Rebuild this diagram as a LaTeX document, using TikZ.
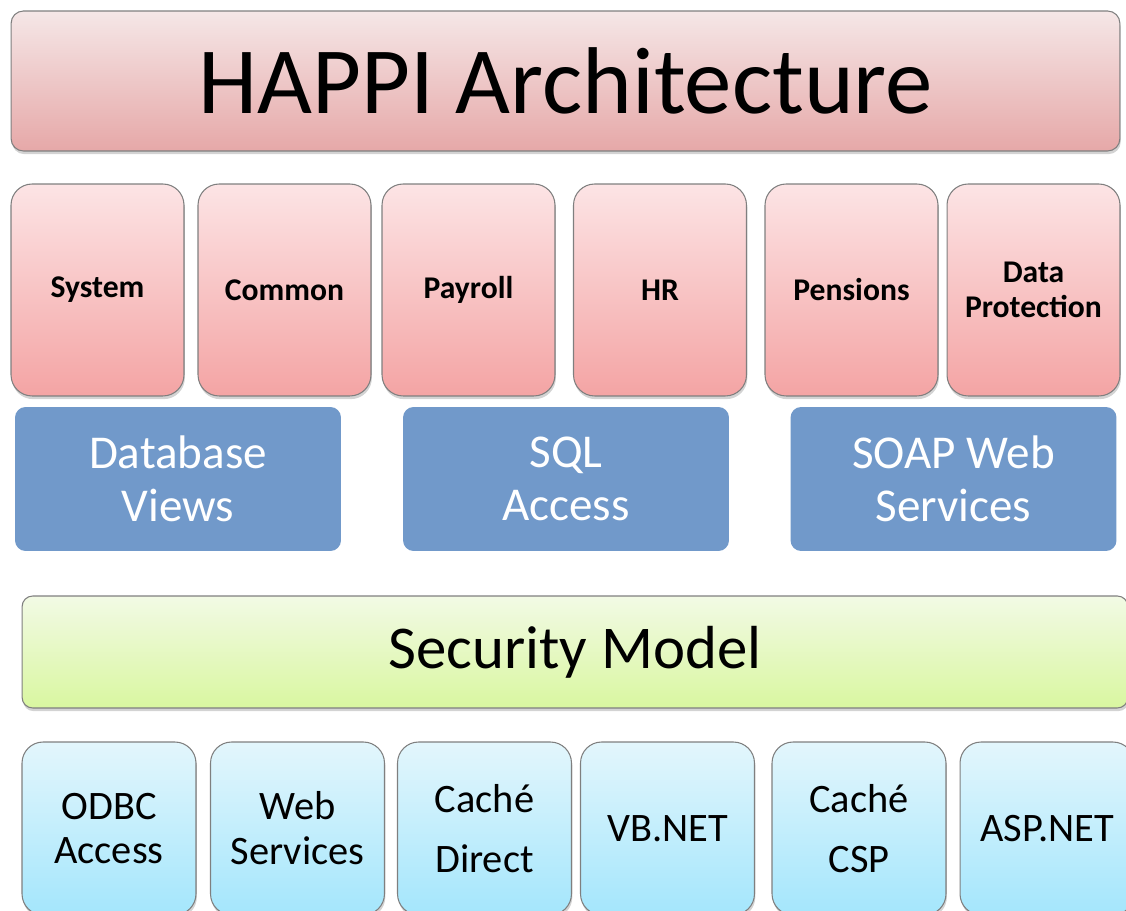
\documentclass[tikz,border=0pt]{standalone}
\usepackage{fontspec}
\setmainfont{Carlito}
\usepackage{xcolor}
\usetikzlibrary{shadows}

\definecolor{TitleTop}{HTML}{F5E7E7}
\definecolor{TitleBottom}{HTML}{E6A8A8}
\definecolor{ModuleTop}{HTML}{FCE4E5}
\definecolor{ModuleBottom}{HTML}{F4A4A4}
\definecolor{AccessBlue}{HTML}{7199CA}
\definecolor{SecurityTop}{HTML}{F2FAE5}
\definecolor{SecurityBottom}{HTML}{D9F7A0}
\definecolor{ClientTop}{HTML}{E3F6FC}
\definecolor{ClientBottom}{HTML}{A4E6FC}
\definecolor{EdgeGray}{HTML}{7F7F7F}

\begin{document}
\begin{tikzpicture}[x=0.02cm, y=-0.02cm]
\tikzset{BoxStyle/.style = {shape=rectangle, draw=EdgeGray, line width=0.6pt, inner sep=0pt, align=center,
  drop shadow={shadow xshift=0.5pt, shadow yshift=-1.8pt, opacity=0.35}}}
\tikzset{TitleStyle/.style = {BoxStyle, rounded corners=7pt, top color=TitleTop, bottom color=TitleBottom,
  minimum width=22.18cm, minimum height=2.8cm, font=\fontsize{54}{65}\selectfont}}
\tikzset{ModuleStyle/.style = {BoxStyle, rounded corners=12pt, top color=ModuleTop, bottom color=ModuleBottom,
  minimum width=3.46cm, minimum height=4.24cm, font=\fontsize{18}{20}\selectfont\bfseries}}
\tikzset{AccessStyle/.style = {shape=rectangle, rounded corners=6pt, fill=AccessBlue, inner sep=0pt, align=center,
  minimum width=6.52cm, minimum height=2.88cm, text=white, font=\fontsize{26.8}{30}\selectfont}}
\tikzset{SecurityStyle/.style = {BoxStyle, rounded corners=6pt, top color=SecurityTop, bottom color=SecurityBottom,
  minimum width=22.12cm, minimum height=2.24cm, font=\fontsize{34.6}{42}\selectfont}}
\tikzset{ClientStyle/.style = {BoxStyle, rounded corners=12pt, top color=ClientTop, bottom color=ClientBottom,
  minimum width=3.48cm, minimum height=3.46cm, font=\fontsize{23}{25.5}\selectfont}}

  \useasboundingbox (0,0) rectangle (1126,911);

  % title
  \node[TitleStyle] (title) at (565.5,81) {HAPPI Architecture};

  % modules
  \node[ModuleStyle] (system)   at (97.5,290)  {System};
  \node[ModuleStyle] (common)   at (284.5,290) {Common};
  \node[ModuleStyle] (payroll)  at (468.5,290) {Payroll};
  \node[ModuleStyle] (hr)       at (660,290)   {HR};
  \node[ModuleStyle] (pensions) at (851.5,290) {Pensions};
  \node[ModuleStyle] (dataprot) at (1033.5,290) {Data\\Protection};

  % access layers
  \node[AccessStyle] (dbviews) at (178,479)   {Database\\Views};
  \node[AccessStyle] (sqlacc)  at (566,479)   {SQL\\Access};
  \node[AccessStyle] (soapws)  at (953.5,479) {SOAP Web\\Services};

  % security
  \node[SecurityStyle] (security) at (575,652) {Security Model};

  % clients
  \node[ClientStyle] (odbc)   at (109,828.5)   {ODBC\\Access};
  \node[ClientStyle] (websvc) at (297.5,828.5) {Web\\Services};
  \node[ClientStyle] (cdirect) at (484.5,828.5) {Caché\\[8.5pt]Direct};
  \node[ClientStyle] (vbnet)  at (667.5,828.5) {VB.NET};
  \node[ClientStyle] (ccsp)   at (859,828.5)   {Caché\\[8.5pt]CSP};
  \node[ClientStyle] (aspnet) at (1047,828.5)  {ASP.NET};
\end{tikzpicture}
\end{document}
